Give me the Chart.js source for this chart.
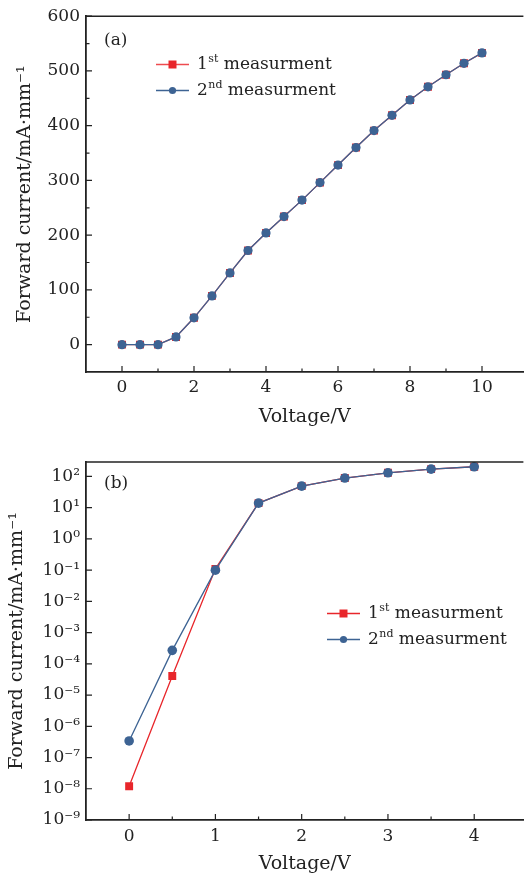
<!DOCTYPE html>
<html>
<head>
<meta charset="utf-8">
<script src="https://cdn.jsdelivr.net/npm/chart.js@4.4.1/dist/chart.umd.min.js"></script>
<style>
  body { margin: 0; background: #fff; }
  canvas { display: block; }
</style>
</head>
<body>
<canvas id="chartA" width="529" height="440"></canvas>
<canvas id="chartB" width="529" height="434"></canvas>
<script>
// panel (a): linear scale
const voltageA = [0, 0.5, 1, 1.5, 2, 2.5, 3, 3.5, 4, 4.5, 5, 5.5, 6, 6.5, 7, 7.5, 8, 8.5, 9, 9.5, 10];
const currentA1 = [0, 0, 0, 14, 49, 89, 131, 172, 204, 234, 264, 296, 328, 360, 391, 419, 447, 471, 493, 514, 533];
const currentA2 = [0, 0, 0, 14, 49, 89, 131, 172, 204, 234, 264, 296, 328, 360, 391, 419, 447, 471, 493, 514, 533];
const xTicksA = [0, 2, 4, 6, 8, 10];
const yTicksA = [0, 100, 200, 300, 400, 500, 600];

// panel (b): log scale
const voltageB = [0, 0.5, 1, 1.5, 2, 2.5, 3, 3.5, 4];
const currentB1 = [1.2e-8, 4.1e-5, 0.11, 14, 49, 89, 131, 172, 204];
const currentB2 = [3.4e-7, 2.7e-4, 0.1, 14, 49, 89, 131, 172, 204];
const xTicksB = [0, 1, 2, 3, 4];
const yExpB = [-9, -8, -7, -6, -5, -4, -3, -2, -1, 0, 1, 2];

// legend text: number, superscript, rest
const seriesNames = [['1', 'st', ' measurment'], ['2', 'nd', ' measurment']];

const ink = '#222';
const red = '#e8262b';
const redLine = '#ee4b4f';
const blue = '#3d6393';
const FONT = '"DejaVu Serif", "Liberation Serif", serif';

Chart.defaults.font.family = FONT;
Chart.defaults.font.size = 17;
Chart.defaults.color = ink;

const SUP = {'-': '\u207B', '0': '\u2070', '1': '\u00B9', '2': '\u00B2', '3': '\u00B3', '4': '\u2074',
  '5': '\u2075', '6': '\u2076', '7': '\u2077', '8': '\u2078', '9': '\u2079'};
const sup = s => String(s).split('').map(c => SUP[c]).join('');

function series(xs, ys, fill, line, style, radius, order) {
  return {
    data: xs.map((v, i) => ({x: v, y: ys[i]})),
    borderColor: line,
    borderWidth: 1.3,
    pointBackgroundColor: fill,
    pointBorderColor: fill,
    pointBorderWidth: 0,
    pointStyle: style,
    pointRadius: radius,
    order: order
  };
}

// top frame line, inward ticks, panel tag and legend
const frame = {
  id: 'frame',
  afterDraw(chart, args, o) {
    const {ctx, chartArea: a, scales: {x, y}} = chart;
    ctx.save();
    ctx.strokeStyle = ink;
    ctx.lineWidth = 1.6;
    ctx.beginPath();
    ctx.moveTo(a.left, a.top);
    ctx.lineTo(a.right, a.top);
    ctx.stroke();

    ctx.lineWidth = 1.2;
    ctx.beginPath();
    const xt = (v, len) => { const p = x.getPixelForValue(v); ctx.moveTo(p, a.bottom); ctx.lineTo(p, a.bottom - len); };
    const yt = (v, len) => { const p = y.getPixelForValue(v); ctx.moveTo(a.left, p); ctx.lineTo(a.left + len, p); };
    x.ticks.forEach(t => xt(t.value, 6));
    y.ticks.forEach(t => yt(t.value, 6));
    o.xMinor.forEach(v => xt(v, 3.5));
    o.yMinor.forEach(v => yt(v, 3.5));
    ctx.stroke();

    ctx.fillStyle = ink;
    ctx.textBaseline = 'middle';
    ctx.textAlign = 'left';
    ctx.font = '17px ' + FONT;
    ctx.fillText(o.tag, o.tagX, o.tagY);

    seriesNames.forEach((parts, i) => {
      const ly = o.legY + i * 26;
      const ds = chart.data.datasets[i];
      ctx.strokeStyle = ds.borderColor;
      ctx.lineWidth = 1.6;
      ctx.beginPath();
      ctx.moveTo(o.legX, ly);
      ctx.lineTo(o.legX + 33, ly);
      ctx.stroke();
      ctx.fillStyle = ds.pointBackgroundColor;
      ctx.beginPath();
      if (i === 0) ctx.rect(o.legX + 16.5 - 4, ly - 4, 8, 8);
      else ctx.arc(o.legX + 16.5, ly, 3.6, 0, Math.PI * 2);
      ctx.fill();

      ctx.fillStyle = ink;
      let tx = o.legX + 41;
      ctx.font = '17px ' + FONT;
      ctx.fillText(parts[0], tx, ly);
      tx += ctx.measureText(parts[0]).width;
      ctx.font = '11px ' + FONT;
      ctx.fillText(parts[1], tx + 0.5, ly - 5);
      tx += ctx.measureText(parts[1]).width + 0.5;
      ctx.font = '17px ' + FONT;
      ctx.fillText(parts[2], tx, ly);
    });
    ctx.restore();
  }
};

const yTitle = 'Forward current/mA\u00B7mm' + sup('-1');
const titleFont = {size: 19};

new Chart(document.getElementById('chartA'), {
  type: 'line',
  data: {
    datasets: [
      series(voltageA, currentA1, red, redLine, 'rect', 5.6, 2),
      series(voltageA, currentA2, blue, blue, 'circle', 4.6, 1)
    ]
  },
  plugins: [frame],
  options: {
    responsive: false,
    animation: false,
    devicePixelRatio: 1,
    layout: {padding: {top: 15, left: 0, right: 0, bottom: 0}},
    plugins: {
      legend: {display: false},
      tooltip: {enabled: false},
      frame: {
        tag: '(a)', tagX: 104, tagY: 41,
        legX: 156, legY: 64.5,
        xMinor: [1, 3, 5, 7, 9],
        yMinor: [50, 150, 250, 350, 450, 550]
      }
    },
    scales: {
      x: {
        type: 'linear', min: -1, max: 11.15,
        grid: {display: false, drawTicks: false},
        border: {display: true, color: ink, width: 1.8},
        afterBuildTicks: s => { s.ticks = xTicksA.map(v => ({value: v})); },
        afterFit: s => { s.height = 68; },
        ticks: {padding: 5, color: ink},
        title: {display: true, text: 'Voltage/V', font: titleFont, padding: {top: 0, bottom: 12}, color: ink}
      },
      y: {
        type: 'linear', min: -50, max: 600,
        grid: {display: false, drawTicks: false},
        border: {display: true, color: ink, width: 1.8},
        afterBuildTicks: s => { s.ticks = yTicksA.map(v => ({value: v})); },
        afterFit: s => { s.width = 86; },
        ticks: {padding: 6, color: ink},
        title: {display: true, text: yTitle, font: titleFont, padding: {top: 14, bottom: 0}, color: ink}
      }
    }
  }
});

new Chart(document.getElementById('chartB'), {
  type: 'line',
  data: {
    datasets: [
      series(voltageB, currentB1, red, red, 'rect', 5.6, 2),
      series(voltageB, currentB2, blue, blue, 'circle', 4.8, 1)
    ]
  },
  plugins: [frame],
  options: {
    responsive: false,
    animation: false,
    devicePixelRatio: 1,
    layout: {padding: {top: 22, left: 0, right: 0, bottom: 0}},
    plugins: {
      legend: {display: false},
      tooltip: {enabled: false},
      frame: {
        tag: '(b)', tagX: 104, tagY: 44,
        legX: 327, legY: 173.5,
        xMinor: [0.5, 1.5, 2.5, 3.5],
        yMinor: []
      }
    },
    scales: {
      x: {
        type: 'linear', min: -0.5, max: 4.57,
        grid: {display: false, drawTicks: false},
        border: {display: true, color: ink, width: 1.8},
        afterBuildTicks: s => { s.ticks = xTicksB.map(v => ({value: v})); },
        afterFit: s => { s.height = 54; },
        ticks: {padding: 6, color: ink},
        title: {display: true, text: 'Voltage/V', font: titleFont, padding: {top: 0, bottom: -1}, color: ink}
      },
      y: {
        type: 'logarithmic', min: 1e-9, max: 290,
        grid: {display: false, drawTicks: false},
        border: {display: true, color: ink, width: 1.8},
        afterBuildTicks: s => { s.ticks = yExpB.map(e => ({value: Math.pow(10, e)})); },
        afterFit: s => { s.width = 86; },
        ticks: {padding: 6, color: ink, callback: v => '10' + sup(Math.round(Math.log10(v)))},
        title: {display: true, text: yTitle, font: titleFont, padding: {top: 6, bottom: 0}, color: ink}
      }
    }
  }
});
</script>
</body>
</html>
